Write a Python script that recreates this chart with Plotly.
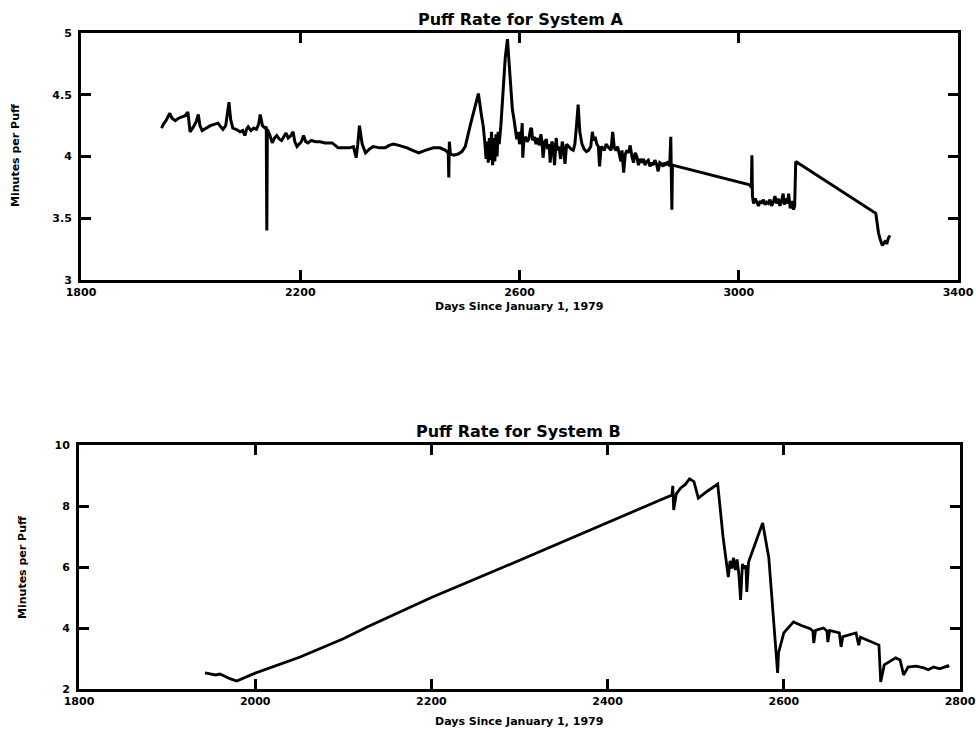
import plotly.graph_objects as go

# ---------------- System A ----------------
a_days = [1947, 1950, 1955, 1962, 1966, 1972, 1978, 1984, 1990, 1995, 1999, 2005, 2010, 2014, 2017,
          2021, 2028, 2036, 2043, 2050, 2055, 2059, 2064, 2070, 2073, 2077, 2083, 2090, 2095, 2099,
          2102, 2105, 2110, 2115, 2120, 2124, 2127, 2131, 2136, 2138, 2139, 2140, 2144, 2149, 2153,
          2157, 2162, 2166, 2170, 2174, 2178, 2183, 2187, 2190, 2194, 2198, 2202, 2206, 2210, 2214,
          2220, 2228, 2236, 2245, 2258, 2264, 2269, 2280, 2290, 2297, 2302, 2305, 2308, 2313, 2319,
          2326, 2333, 2345, 2355, 2362, 2370, 2380, 2395, 2405, 2416, 2428, 2443, 2455, 2465, 2470,
          2471, 2472, 2474, 2480, 2488, 2495, 2501, 2510, 2518, 2525, 2530, 2534, 2537, 2539, 2541,
          2543, 2545, 2547, 2549, 2551, 2553, 2555, 2557, 2559, 2561, 2563, 2566, 2570, 2574, 2578,
          2581, 2584, 2587, 2590, 2592, 2595, 2598, 2600, 2603, 2605, 2606, 2608, 2611, 2614, 2617,
          2620, 2622, 2624, 2627, 2630, 2633, 2636, 2639, 2641, 2643, 2646, 2649, 2651, 2654, 2656,
          2659, 2661, 2664, 2667, 2669, 2672, 2675, 2678, 2680, 2683, 2686, 2690, 2694, 2698, 2701,
          2704, 2707, 2710, 2714, 2718, 2722, 2726, 2730, 2733, 2735, 2738, 2741, 2744, 2746, 2749,
          2752, 2755, 2758, 2761, 2764, 2767, 2770, 2773, 2776, 2779, 2782, 2785, 2787, 2790, 2793,
          2796, 2799, 2802, 2805, 2808, 2811, 2814, 2817, 2820, 2823, 2826, 2829, 2832, 2835, 2838,
          2841, 2844, 2847, 2850, 2853, 2856, 2859, 2862, 2865, 2868, 2871, 2874, 2876, 2877, 2878,
          2879, 3020, 3023, 3024, 3025, 3027, 3030, 3033, 3036, 3039, 3042, 3045, 3048, 3051, 3054,
          3057, 3060, 3063, 3066, 3069, 3072, 3075, 3078, 3081, 3083, 3086, 3089, 3091, 3094, 3097,
          3100, 3102, 3104, 3250, 3255, 3258, 3262, 3265, 3268, 3270, 3273, 3276]
a_rate = [4.23, 4.26, 4.29, 4.35, 4.31, 4.29, 4.31, 4.32, 4.33, 4.36, 4.20, 4.24, 4.28, 4.34, 4.25,
          4.21, 4.23, 4.25, 4.26, 4.27, 4.24, 4.22, 4.25, 4.44, 4.30, 4.23, 4.22, 4.20, 4.21, 4.17,
          4.22, 4.24, 4.21, 4.23, 4.22, 4.26, 4.34, 4.25, 4.23, 4.24, 3.40, 4.22, 4.18, 4.11, 4.15,
          4.17, 4.14, 4.13, 4.16, 4.19, 4.15, 4.17, 4.20, 4.12, 4.08, 4.10, 4.12, 4.17, 4.12, 4.11,
          4.13, 4.12, 4.12, 4.11, 4.11, 4.09, 4.07, 4.07, 4.07, 4.08, 3.99, 4.10, 4.25, 4.10, 4.03,
          4.06, 4.08, 4.07, 4.07, 4.09, 4.10, 4.09, 4.07, 4.05, 4.03, 4.05, 4.07, 4.07, 4.05, 4.03,
          3.83, 4.12, 4.02, 4.01, 4.02, 4.04, 4.08, 4.25, 4.40, 4.51, 4.35, 4.24, 4.10, 3.98, 4.12,
          3.95, 4.15, 3.97, 4.20, 3.93, 4.15, 3.96, 4.18, 4.00, 4.20, 4.10, 4.25, 4.55, 4.80, 4.95,
          4.75, 4.50, 4.38, 4.30, 4.22, 4.14, 4.20, 4.10, 4.15, 4.27, 3.99, 4.13, 4.16, 4.12, 4.14,
          4.22, 4.23, 4.13, 4.16, 4.10, 4.15, 4.09, 4.18, 4.12, 3.99, 4.12, 4.14, 4.06, 4.10, 3.95,
          4.12, 4.10, 3.93, 4.15, 4.05, 4.08, 3.98, 4.12, 4.08, 3.94, 4.10, 4.08, 4.06, 4.05, 4.10,
          4.25, 4.42, 4.20, 4.10, 4.06, 4.04, 4.05, 4.08, 4.20, 4.13, 4.16, 4.10, 4.08, 3.92, 4.08,
          4.07, 4.05, 4.10, 4.08, 4.06, 4.05, 4.20, 4.07, 4.05, 4.08, 4.02, 3.96, 4.05, 3.87, 4.02,
          4.05, 4.03, 4.09, 4.00, 3.95, 4.03, 4.00, 3.93, 3.98, 3.95, 3.98, 3.93, 3.96, 3.97, 3.92,
          3.95, 3.93, 3.97, 3.94, 3.88, 3.95, 3.94, 3.92, 3.95, 3.93, 3.96, 3.92, 4.16, 3.95, 3.57,
          3.93, 3.77, 3.75, 4.01, 3.68, 3.62, 3.66, 3.63, 3.60, 3.64, 3.62, 3.65, 3.61, 3.63, 3.62,
          3.65, 3.60, 3.63, 3.68, 3.62, 3.66, 3.60, 3.64, 3.70, 3.61, 3.66, 3.62, 3.70, 3.58, 3.64,
          3.57, 3.60, 3.96, 3.54, 3.38, 3.33, 3.28, 3.30, 3.32, 3.29, 3.34, 3.36]

# ---------------- System B ----------------
b_days = [1943, 1950, 1955, 1960, 1965, 1972, 1979, 1990, 2000, 2051, 2100, 2127, 2200, 2278, 2332,
          2381, 2426, 2469, 2473, 2474, 2475, 2478, 2483, 2488, 2493, 2498, 2503, 2514, 2525, 2531,
          2535, 2537, 2539, 2541, 2543, 2545, 2547, 2549, 2551, 2553, 2555, 2557, 2558, 2559, 2560,
          2576, 2583, 2593, 2594, 2600, 2611, 2620, 2630, 2633, 2634, 2636, 2645, 2649, 2650, 2652,
          2663, 2665, 2667, 2682, 2685, 2687, 2699, 2708, 2710, 2714, 2727, 2732, 2736, 2741, 2750,
          2759, 2764, 2770, 2777, 2786, 2787]
b_rate = [2.53, 2.48, 2.46, 2.49, 2.42, 2.33, 2.26, 2.40, 2.52, 3.05, 3.65, 4.03, 5.00, 5.95, 6.62,
          7.23, 7.80, 8.32, 8.36, 8.66, 7.87, 8.40, 8.59, 8.70, 8.89, 8.80, 8.26, 8.50, 8.72, 7.00,
          6.10, 5.67, 6.20, 5.95, 6.30, 5.90, 6.25, 5.75, 4.92, 6.10, 5.95, 6.05, 5.18, 5.95, 6.16,
          7.44, 6.30, 2.53, 3.18, 3.84, 4.20, 4.08, 3.98, 3.90, 3.51, 3.92, 4.00, 3.90, 3.54, 3.92,
          3.84, 3.38, 3.72, 3.84, 3.44, 3.70, 3.54, 3.44, 2.23, 2.79, 3.02, 2.95, 2.46, 2.72, 2.75,
          2.69, 2.63, 2.72, 2.66, 2.76, 2.70]

a_xticks = [1800, 2200, 2600, 3000, 3400]
a_yticks = [3, 3.5, 4, 4.5, 5]
b_xticks = [1800, 2000, 2200, 2400, 2600, 2800]
b_yticks = [2, 4, 6, 8, 10]

title_a = "Puff Rate for System A"
title_b = "Puff Rate for System B"
x_title = "Days Since January 1, 1979"
y_title = "Minutes per Puff"

W, H = 976, 733
FONT = "DejaVu Sans"


def px_x(p):
    return p / W


def px_y(p):
    return 1 - p / H


fig = go.Figure()
fig.add_trace(go.Scatter(x=a_days, y=a_rate, mode="lines", xaxis="x", yaxis="y",
                         line=dict(color="black", width=3), showlegend=False, hoverinfo="x+y"))
fig.add_trace(go.Scatter(x=b_days, y=b_rate, mode="lines", xaxis="x2", yaxis="y2",
                         line=dict(color="black", width=2.8), showlegend=False, hoverinfo="x+y"))

tickfont = dict(family=FONT, size=11, color="black", weight="bold")
axis_common = dict(showline=True, linewidth=3, linecolor="black", mirror="ticks",
                   ticks="inside", ticklen=10, tickwidth=2.5, tickcolor="black",
                   showgrid=False, zeroline=False, tickfont=tickfont, automargin=False)

fig.update_layout(
    width=W, height=H,
    margin=dict(l=0, r=0, t=0, b=0),
    paper_bgcolor="white", plot_bgcolor="white",
    xaxis=dict(domain=[px_x(81), px_x(958)], range=[1800, 3400], tickvals=a_xticks,
               anchor="y", **axis_common),
    yaxis=dict(domain=[px_y(280), px_y(33)], range=[3, 5], tickvals=a_yticks,
               ticktext=[str(v) for v in a_yticks], anchor="x", ticklabelstandoff=4, **axis_common),
    xaxis2=dict(domain=[px_x(79), px_x(960)], range=[1800, 2800], tickvals=b_xticks,
                anchor="y2", **axis_common),
    yaxis2=dict(domain=[px_y(689), px_y(445)], range=[2, 10], tickvals=b_yticks,
                anchor="x2", ticklabelstandoff=4, **axis_common),
)

title_font = dict(family=FONT, size=16, color="black", weight="bold")
label_font = dict(family=FONT, size=11, color="black", weight="bold")
annots = [
    dict(text=title_a, x=px_x(520), y=px_y(19), font=title_font),
    dict(text=title_b, x=px_x(518), y=px_y(431), font=title_font),
    dict(text=x_title, x=px_x(519), y=px_y(306), font=label_font),
    dict(text=x_title, x=px_x(519), y=px_y(721), font=label_font),
    dict(text=y_title, x=px_x(16), y=px_y(156), font=label_font, textangle=-90),
    dict(text=y_title, x=px_x(22), y=px_y(568), font=label_font, textangle=-90),
]
for a in annots:
    fig.add_annotation(xref="paper", yref="paper", showarrow=False,
                       xanchor="center", yanchor="middle", **a)

fig.write_html("out.html", config={"displayModeBar": False},
               post_script="document.body.style.margin='0';document.body.style.overflow='hidden';")
